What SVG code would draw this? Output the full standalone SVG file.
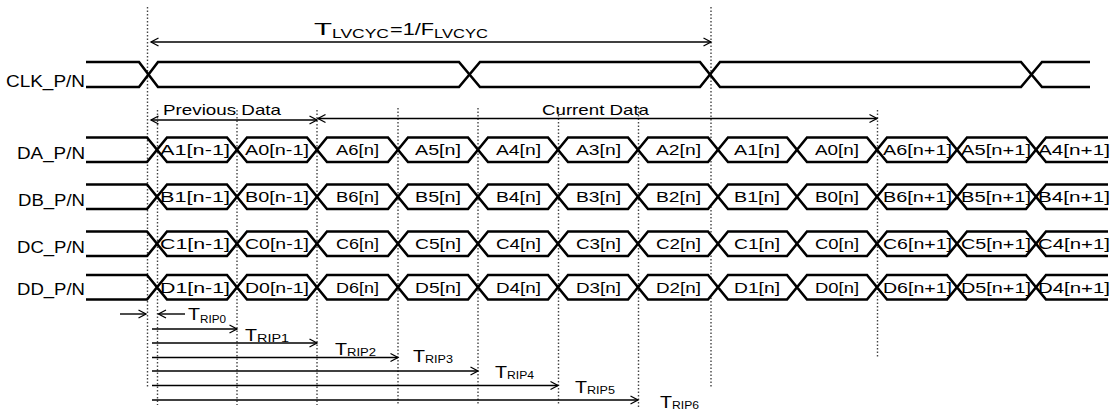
<svg xmlns="http://www.w3.org/2000/svg" xmlns:xlink="http://www.w3.org/1999/xlink" width="1115" height="412" viewBox="0 0 1115 412">
<style>
text{font-family:"Liberation Sans",Arial,sans-serif;fill:#000}
.sig{fill:none;stroke:#000;stroke-width:2.6}
.box{fill:#fff;stroke:#000;stroke-width:2.6}
.lbl{font-size:16px}
.dl{font-size:15px}
.pc{font-size:15px}
.tb{font-size:17px}
.ts{font-size:11px}
.tt{font-size:17px}
.tsub{font-size:12.5px}
.dot{stroke:#444;stroke-width:1.4;stroke-dasharray:1.5 2;fill:none}
.ar{stroke:#000;stroke-width:1.4;fill:none}
.ae{marker-end:url(#ah)}
.as{marker-start:url(#ah)}
</style>
<defs>
<marker id="ah" viewBox="0 0 8 10" refX="8" refY="5" markerWidth="8" markerHeight="10" markerUnits="userSpaceOnUse" orient="auto-start-reverse" overflow="visible">
<path d="M0.5,1 L8,5 L0.5,9" fill="none" stroke="#000" stroke-width="1.3"/>
</marker>
<g id="frame">
<path class="sig" d="M86,0 L147,0 L157,12.25 L147,24.5 L86,24.5"/>
<polygon class="box" points="157,12.25 167,0 227,0 237,12.25 227,24.5 167,24.5"/>
<polygon class="box" points="237,12.25 247,0 307,0 317,12.25 307,24.5 247,24.5"/>
<polygon class="box" points="317,12.25 327,0 388,0 398,12.25 388,24.5 327,24.5"/>
<polygon class="box" points="398,12.25 408,0 468,0 478,12.25 468,24.5 408,24.5"/>
<polygon class="box" points="478,12.25 488,0 548,0 558,12.25 548,24.5 488,24.5"/>
<polygon class="box" points="558,12.25 568,0 628,0 638,12.25 628,24.5 568,24.5"/>
<polygon class="box" points="638,12.25 648,0 708,0 718,12.25 708,24.5 648,24.5"/>
<polygon class="box" points="718,12.25 728,0 787,0 797,12.25 787,24.5 728,24.5"/>
<polygon class="box" points="797,12.25 807,0 867,0 877,12.25 867,24.5 807,24.5"/>
<polygon class="box" points="877,12.25 887,0 947,0 957,12.25 947,24.5 887,24.5"/>
<polygon class="box" points="957,12.25 967,0 1026,0 1036,12.25 1026,24.5 967,24.5"/>
<path class="sig" d="M1108,0 L1046,0 L1036,12.25 L1046,24.5 L1108,24.5"/>
</g>
</defs>
<rect width="1115" height="412" fill="#fff"/>

<g id="connectors">
<line class="dot" x1="147.5" y1="7" x2="147.5" y2="387"/>
<line class="dot" x1="157.5" y1="110" x2="157.5" y2="405"/>
<line class="dot" x1="237" y1="110" x2="237" y2="405"/>
<line class="dot" x1="317" y1="110" x2="317" y2="405"/>
<line class="dot" x1="398" y1="108" x2="398" y2="405"/>
<line class="dot" x1="478" y1="108" x2="478" y2="405"/>
<line class="dot" x1="558.5" y1="108" x2="558.5" y2="405"/>
<line class="dot" x1="638.5" y1="108" x2="638.5" y2="408"/>
<line class="dot" x1="711" y1="7" x2="711" y2="388"/>
<line class="dot" x1="877.5" y1="110" x2="877.5" y2="358"/>
<line class="ar as ae" x1="151" y1="42" x2="711" y2="42"/>
<line class="ar as ae" x1="151" y1="120" x2="317" y2="120"/>
<line class="ar as ae" x1="318" y1="118.5" x2="877" y2="118.5"/>
<line class="ar ae" x1="120" y1="314" x2="146" y2="314"/>
<line class="ar ae" x1="185" y1="314" x2="158.5" y2="314"/>
<line class="ar ae" x1="152" y1="329" x2="237" y2="329"/>
<line class="ar ae" x1="152" y1="343" x2="317" y2="343"/>
<line class="ar ae" x1="152" y1="357.5" x2="398" y2="357.5"/>
<line class="ar ae" x1="152" y1="371" x2="478" y2="371"/>
<line class="ar ae" x1="152" y1="385.5" x2="558" y2="385.5"/>
<line class="ar ae" x1="152" y1="400" x2="638" y2="400"/>
</g>

<g id="title">
<text class="tt" x="314" y="35" textLength="18" lengthAdjust="spacingAndGlyphs">T</text>
<text class="tsub" x="332" y="38" textLength="57" lengthAdjust="spacingAndGlyphs">LVCYC</text>
<text class="tt" x="390" y="35" textLength="44" lengthAdjust="spacingAndGlyphs">=1/F</text>
<text class="tsub" x="434" y="38" textLength="54" lengthAdjust="spacingAndGlyphs">LVCYC</text>
</g>

<g id="clk">
<text class="lbl" x="6" y="87" textLength="79" lengthAdjust="spacingAndGlyphs">CLK_P/N</text>
<path class="sig" d="M86,62 L139,62 L158,87 L459,87 L480,62 L700,62 L720,87 L1021,87 L1042,62 L1090,62"/>
<path class="sig" d="M86,87 L139,87 L158,62 L459,62 L480,87 L700,87 L720,62 L1021,62 L1042,87 L1090,87"/>
</g>

<g id="prev-data">
<text class="pc" x="163" y="115" textLength="118" lengthAdjust="spacingAndGlyphs">Previous Data</text>
</g>
<g id="curr-data">
<text class="pc" x="542" y="115" textLength="107" lengthAdjust="spacingAndGlyphs">Current Data</text>
</g>

<g id="row-da" transform="translate(0,137.5)">
<use href="#frame" xlink:href="#frame"/>
<text class="lbl" x="17" y="21" textLength="68" lengthAdjust="spacingAndGlyphs">DA_P/N</text>
<text class="dl" x="160" y="17.5" textLength="70" lengthAdjust="spacingAndGlyphs">A1[n-1]</text>
<text class="dl" x="245" y="17.5" textLength="64" lengthAdjust="spacingAndGlyphs">A0[n-1]</text>
<text class="dl" x="336" y="17.5" textLength="43" lengthAdjust="spacingAndGlyphs">A6[n]</text>
<text class="dl" x="415" y="17.5" textLength="46" lengthAdjust="spacingAndGlyphs">A5[n]</text>
<text class="dl" x="496" y="17.5" textLength="45" lengthAdjust="spacingAndGlyphs">A4[n]</text>
<text class="dl" x="576" y="17.5" textLength="45" lengthAdjust="spacingAndGlyphs">A3[n]</text>
<text class="dl" x="656" y="17.5" textLength="45" lengthAdjust="spacingAndGlyphs">A2[n]</text>
<text class="dl" x="734" y="17.5" textLength="46" lengthAdjust="spacingAndGlyphs">A1[n]</text>
<text class="dl" x="815" y="17.5" textLength="44" lengthAdjust="spacingAndGlyphs">A0[n]</text>
<text class="dl" x="883" y="17.5" textLength="69" lengthAdjust="spacingAndGlyphs">A6[n+1]</text>
<text class="dl" x="961" y="17.5" textLength="70" lengthAdjust="spacingAndGlyphs">A5[n+1]</text>
<text class="dl" x="1038" y="17.5" textLength="72" lengthAdjust="spacingAndGlyphs">A4[n+1]</text>
</g>

<g id="row-db" transform="translate(0,184.5)">
<use href="#frame" xlink:href="#frame"/>
<text class="lbl" x="18" y="21" textLength="67" lengthAdjust="spacingAndGlyphs">DB_P/N</text>
<text class="dl" x="160" y="17.5" textLength="70" lengthAdjust="spacingAndGlyphs">B1[n-1]</text>
<text class="dl" x="245" y="17.5" textLength="64" lengthAdjust="spacingAndGlyphs">B0[n-1]</text>
<text class="dl" x="336" y="17.5" textLength="43" lengthAdjust="spacingAndGlyphs">B6[n]</text>
<text class="dl" x="415" y="17.5" textLength="46" lengthAdjust="spacingAndGlyphs">B5[n]</text>
<text class="dl" x="496" y="17.5" textLength="45" lengthAdjust="spacingAndGlyphs">B4[n]</text>
<text class="dl" x="576" y="17.5" textLength="45" lengthAdjust="spacingAndGlyphs">B3[n]</text>
<text class="dl" x="656" y="17.5" textLength="45" lengthAdjust="spacingAndGlyphs">B2[n]</text>
<text class="dl" x="734" y="17.5" textLength="46" lengthAdjust="spacingAndGlyphs">B1[n]</text>
<text class="dl" x="815" y="17.5" textLength="44" lengthAdjust="spacingAndGlyphs">B0[n]</text>
<text class="dl" x="883" y="17.5" textLength="69" lengthAdjust="spacingAndGlyphs">B6[n+1]</text>
<text class="dl" x="961" y="17.5" textLength="70" lengthAdjust="spacingAndGlyphs">B5[n+1]</text>
<text class="dl" x="1038" y="17.5" textLength="72" lengthAdjust="spacingAndGlyphs">B4[n+1]</text>
</g>

<g id="row-dc" transform="translate(0,231.5)">
<use href="#frame" xlink:href="#frame"/>
<text class="lbl" x="17" y="21" textLength="68" lengthAdjust="spacingAndGlyphs">DC_P/N</text>
<text class="dl" x="160" y="17.5" textLength="70" lengthAdjust="spacingAndGlyphs">C1[n-1]</text>
<text class="dl" x="245" y="17.5" textLength="64" lengthAdjust="spacingAndGlyphs">C0[n-1]</text>
<text class="dl" x="336" y="17.5" textLength="43" lengthAdjust="spacingAndGlyphs">C6[n]</text>
<text class="dl" x="415" y="17.5" textLength="46" lengthAdjust="spacingAndGlyphs">C5[n]</text>
<text class="dl" x="496" y="17.5" textLength="45" lengthAdjust="spacingAndGlyphs">C4[n]</text>
<text class="dl" x="576" y="17.5" textLength="45" lengthAdjust="spacingAndGlyphs">C3[n]</text>
<text class="dl" x="656" y="17.5" textLength="45" lengthAdjust="spacingAndGlyphs">C2[n]</text>
<text class="dl" x="734" y="17.5" textLength="46" lengthAdjust="spacingAndGlyphs">C1[n]</text>
<text class="dl" x="815" y="17.5" textLength="44" lengthAdjust="spacingAndGlyphs">C0[n]</text>
<text class="dl" x="883" y="17.5" textLength="69" lengthAdjust="spacingAndGlyphs">C6[n+1]</text>
<text class="dl" x="961" y="17.5" textLength="70" lengthAdjust="spacingAndGlyphs">C5[n+1]</text>
<text class="dl" x="1038" y="17.5" textLength="72" lengthAdjust="spacingAndGlyphs">C4[n+1]</text>
</g>

<g id="row-dd" transform="translate(0,275)">
<use href="#frame" xlink:href="#frame"/>
<text class="lbl" x="17" y="19.5" textLength="68" lengthAdjust="spacingAndGlyphs">DD_P/N</text>
<text class="dl" x="160" y="17.5" textLength="70" lengthAdjust="spacingAndGlyphs">D1[n-1]</text>
<text class="dl" x="245" y="17.5" textLength="64" lengthAdjust="spacingAndGlyphs">D0[n-1]</text>
<text class="dl" x="336" y="17.5" textLength="43" lengthAdjust="spacingAndGlyphs">D6[n]</text>
<text class="dl" x="415" y="17.5" textLength="46" lengthAdjust="spacingAndGlyphs">D5[n]</text>
<text class="dl" x="496" y="17.5" textLength="45" lengthAdjust="spacingAndGlyphs">D4[n]</text>
<text class="dl" x="576" y="17.5" textLength="45" lengthAdjust="spacingAndGlyphs">D3[n]</text>
<text class="dl" x="656" y="17.5" textLength="45" lengthAdjust="spacingAndGlyphs">D2[n]</text>
<text class="dl" x="734" y="17.5" textLength="46" lengthAdjust="spacingAndGlyphs">D1[n]</text>
<text class="dl" x="815" y="17.5" textLength="44" lengthAdjust="spacingAndGlyphs">D0[n]</text>
<text class="dl" x="883" y="17.5" textLength="69" lengthAdjust="spacingAndGlyphs">D6[n+1]</text>
<text class="dl" x="961" y="17.5" textLength="70" lengthAdjust="spacingAndGlyphs">D5[n+1]</text>
<text class="dl" x="1038" y="17.5" textLength="72" lengthAdjust="spacingAndGlyphs">D4[n+1]</text>
</g>

<g id="trip-labels">
<text class="tb" x="188" y="320" textLength="12" lengthAdjust="spacingAndGlyphs">T</text>
<text class="ts" x="200" y="322.5" textLength="26" lengthAdjust="spacingAndGlyphs">RIP0</text>
<text class="tb" x="245" y="341" textLength="12" lengthAdjust="spacingAndGlyphs">T</text>
<text class="ts" x="257" y="342" textLength="32" lengthAdjust="spacingAndGlyphs">RIP1</text>
<text class="tb" x="335" y="355" textLength="12" lengthAdjust="spacingAndGlyphs">T</text>
<text class="ts" x="347" y="356" textLength="29" lengthAdjust="spacingAndGlyphs">RIP2</text>
<text class="tb" x="413" y="362" textLength="12" lengthAdjust="spacingAndGlyphs">T</text>
<text class="ts" x="425" y="363" textLength="28" lengthAdjust="spacingAndGlyphs">RIP3</text>
<text class="tb" x="495" y="377.5" textLength="12" lengthAdjust="spacingAndGlyphs">T</text>
<text class="ts" x="507" y="378.5" textLength="27" lengthAdjust="spacingAndGlyphs">RIP4</text>
<text class="tb" x="575" y="392.5" textLength="12" lengthAdjust="spacingAndGlyphs">T</text>
<text class="ts" x="587" y="393.5" textLength="28" lengthAdjust="spacingAndGlyphs">RIP5</text>
<text class="tb" x="660" y="407.5" textLength="12" lengthAdjust="spacingAndGlyphs">T</text>
<text class="ts" x="672" y="408.5" textLength="27" lengthAdjust="spacingAndGlyphs">RIP6</text>
</g>
</svg>
